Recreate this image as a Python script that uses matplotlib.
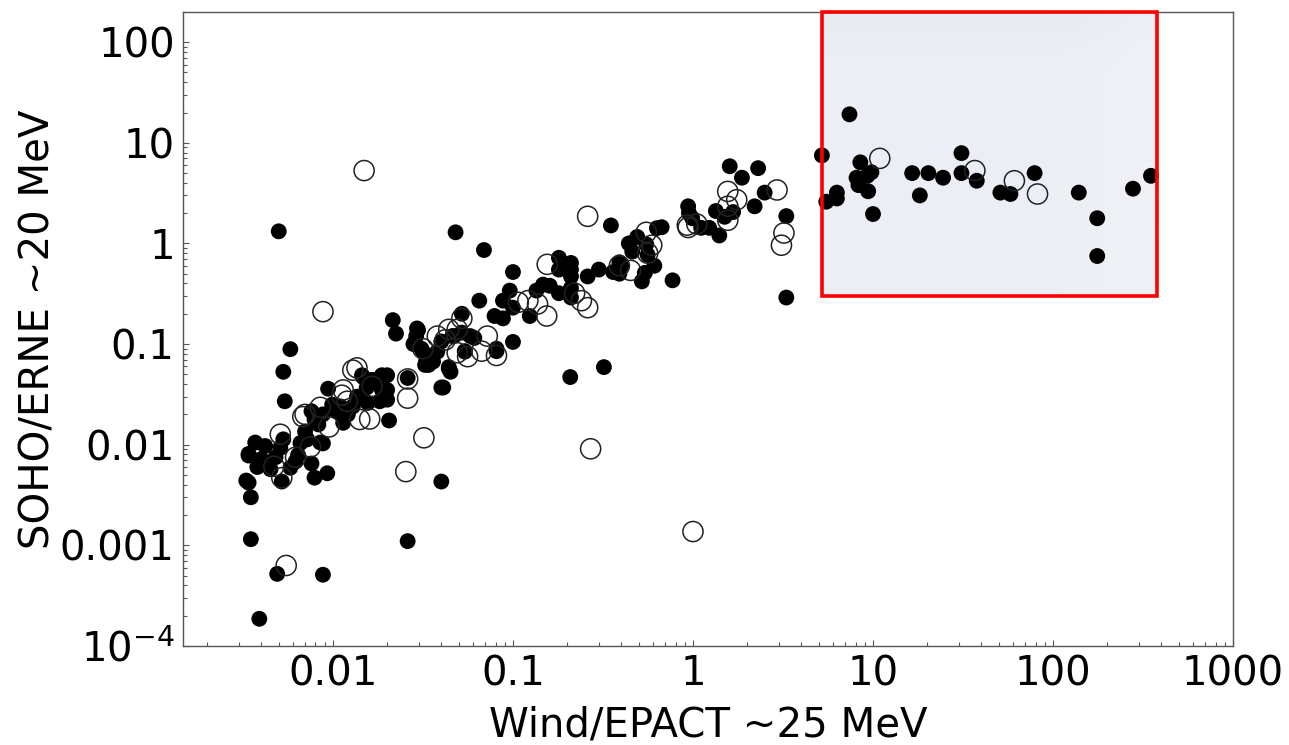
import numpy as np
import matplotlib
matplotlib.use("Agg")
import matplotlib.pyplot as plt
from matplotlib.patches import Rectangle
from matplotlib.ticker import FixedLocator, LogLocator, NullFormatter, FuncFormatter

# events seen by both instruments (filled) and the second group (open)
filled_x = [0.005, 0.048, 0.069, 0.0058, 0.0053, 0.0054, 0.0094, 0.04, 0.026, 0.0205,
            0.208, 0.0035, 0.0049, 0.0088, 0.0039, 0.1, 0.0033, 0.0034, 0.0035, 0.0034,
            0.35, 0.18, 0.21, 0.21, 0.21, 0.21, 0.18, 0.26, 0.30, 0.32,
            0.36, 0.39, 0.39, 0.44, 0.46, 0.49, 0.55, 0.56, 0.61, 0.54,
            0.52, 0.40, 0.63, 0.67, 0.77, 0.94, 0.95, 0.99, 1.11, 1.23,
            1.4, 1.34, 1.5, 1.67, 1.6, 1.87, 2.3, 2.2, 2.5, 3.3,
            3.3, 5.2, 7.4, 8.5, 8.1, 8.3, 9.3, 9.8, 9.4, 10.0,
            5.5, 6.3, 6.3, 16.5, 20.3, 24.5, 18.2, 31, 31, 37.7,
            51, 58, 79, 139, 176, 176, 278, 350,
            0.0037, 0.0034, 0.0042, 0.0040, 0.0045, 0.0048, 0.0051, 0.0053, 0.0052, 0.0038,
            0.0058, 0.0064, 0.0066, 0.0076, 0.0079, 0.0093, 0.007, 0.0072, 0.0076, 0.0079,
            0.0083, 0.0085, 0.0088, 0.0099, 0.0105, 0.011, 0.0114, 0.0121, 0.0129, 0.0136,
            0.0154, 0.0088, 0.0145, 0.0165, 0.0187, 0.02, 0.0187, 0.02, 0.0182, 0.0156,
            0.0141, 0.026, 0.0297, 0.0285, 0.0316, 0.033, 0.034, 0.036, 0.040, 0.044,
            0.045, 0.04, 0.046, 0.054, 0.058, 0.081, 0.0215, 0.0224, 0.0293, 0.029,
            0.028, 0.031, 0.041, 0.044, 0.0325, 0.0345, 0.038, 0.047, 0.052, 0.061,
            0.052, 0.054, 0.081, 0.065, 0.079, 0.088, 0.096, 0.088, 0.1, 0.124,
            0.147, 0.16, 0.135, 0.1, 0.0147, 0.0167, 0.02, 0.18, 0.21, 0.0062]
filled_y = [1.32, 1.29, 0.86, 0.089, 0.053, 0.027, 0.036, 0.0043, 0.0011, 0.0174,
            0.047, 0.00115, 0.00052, 0.00051, 0.000186, 0.105, 0.0044, 0.0042, 0.003, 0.0081,
            1.51, 0.72, 0.64, 0.47, 0.36, 0.29, 0.32, 0.47, 0.55, 0.059,
            0.52, 0.5, 0.65, 1.0, 0.83, 1.16, 0.98, 0.77, 0.6, 0.51,
            0.42, 0.6, 1.42, 1.45, 0.43, 2.34, 2.0, 1.78, 1.43, 1.43,
            1.2, 2.1, 1.84, 2.05, 5.85, 4.5, 5.6, 2.34, 3.2, 1.87,
            0.29, 7.5, 19.2, 6.4, 4.5, 3.8, 4.7, 5.1, 3.3, 1.96,
            2.6, 3.2, 2.8, 5.0, 5.0, 4.5, 3.0, 7.9, 5.0, 4.2,
            3.2, 3.1, 5.0, 3.2, 1.78, 0.75, 3.5, 4.7,
            0.0105, 0.0078, 0.0097, 0.0072, 0.0057, 0.0075, 0.0093, 0.0113, 0.0043, 0.006,
            0.0059, 0.0079, 0.0104, 0.0065, 0.0047, 0.0052, 0.0135, 0.0113, 0.0215, 0.0178,
            0.0159, 0.0105, 0.0103, 0.025, 0.0215, 0.024, 0.0165, 0.02, 0.024, 0.03,
            0.037, 0.02, 0.049, 0.044, 0.049, 0.049, 0.035, 0.028, 0.027, 0.026,
            0.03, 0.046, 0.138, 0.101, 0.084, 0.07, 0.062, 0.067, 0.106, 0.059,
            0.053, 0.037, 0.12, 0.085, 0.12, 0.085, 0.173, 0.127, 0.143, 0.12,
            0.1, 0.09, 0.037, 0.057, 0.062, 0.072, 0.084, 0.12, 0.13, 0.115,
            0.2, 0.084, 0.09, 0.27, 0.19, 0.18, 0.34, 0.27, 0.23, 0.19,
            0.39, 0.38, 0.34, 0.52, 0.047, 0.044, 0.035, 0.55, 0.55, 0.0068]

open_x = [0.0149, 0.0088, 0.27, 1.0, 0.26, 0.032, 0.0254, 0.0055, 0.22, 0.24,
          0.26, 0.45, 0.39, 0.55, 0.59, 0.56, 0.93, 0.94, 1.05, 1.56,
          1.75, 1.56, 1.56, 2.93, 3.2, 3.1, 10.9, 36.8, 61, 82,
          0.0051, 0.0052, 0.0068, 0.007, 0.0085, 0.0112, 0.012, 0.0141, 0.0129, 0.0114,
          0.026, 0.026, 0.0316, 0.042, 0.056, 0.067, 0.072, 0.081, 0.0136, 0.038,
          0.044, 0.049, 0.052, 0.049, 0.107, 0.121, 0.137, 0.154, 0.155, 0.0062,
          0.0075, 0.0095, 0.0165, 0.016, 0.0047]
open_y = [5.3, 0.21, 0.0091, 0.00137, 1.86, 0.0117, 0.0054, 0.00063, 0.32, 0.27,
          0.23, 0.54, 0.6, 1.29, 0.96, 0.8, 1.52, 1.44, 1.56, 3.29,
          2.72, 2.34, 1.7, 3.4, 1.27, 0.96, 7.0, 5.3, 4.2, 3.1,
          0.0127, 0.0047, 0.019, 0.02, 0.0235, 0.031, 0.027, 0.0178, 0.055, 0.035,
          0.045, 0.029, 0.09, 0.11, 0.075, 0.085, 0.12, 0.077, 0.058, 0.12,
          0.14, 0.14, 0.18, 0.082, 0.26, 0.27, 0.25, 0.19, 0.62, 0.0075,
          0.0095, 0.015, 0.038, 0.018, 0.0061]

# highlighted region (x range, y range)
box_x = [5.2, 380]
box_y = [0.3, 200]

xticks = [0.01, 0.1, 1, 10, 100, 1000]
yticks = [1e-4, 0.001, 0.01, 0.1, 1, 10, 100]

plt.rcParams["font.family"] = "DejaVu Sans"

fig = plt.figure(figsize=(12.89, 7.45), dpi=100)
ax = fig.add_axes([0.142, 0.133, 0.8146, 0.851])
ax.set_xscale("log")
ax.set_yscale("log")
ax.set_xlim(0.00147, 1000)
ax.set_ylim(1e-4, 200)

# shaded box with a soft gradient
grad = np.array([[[0.910, 0.922, 0.949], [0.925, 0.937, 0.957]],
                 [[0.925, 0.937, 0.957], [0.937, 0.945, 0.965]]])
ax.imshow(grad, extent=(box_x[0], box_x[1], box_y[0], box_y[1]), aspect="auto",
          interpolation="bilinear", origin="upper", zorder=0)
ax.add_patch(Rectangle((box_x[0], box_y[0]), box_x[1] - box_x[0], box_y[1] - box_y[0],
                       fill=False, edgecolor="#ff0000", lw=2.6, zorder=5, clip_on=False))

ax.scatter(filled_x, filled_y, s=130, c="black", edgecolors="none", zorder=3)
ax.scatter(open_x, open_y, s=210, facecolors="none", edgecolors="#222222",
           linewidths=1.1, zorder=4)

def fmt(v, pos):
    if v < 0.0005:
        return r"$10^{-4}$"
    if v >= 1:
        return "%d" % round(v)
    return ("%.4f" % v).rstrip("0")

ax.xaxis.set_major_locator(FixedLocator(xticks))
ax.yaxis.set_major_locator(FixedLocator(yticks))
ax.xaxis.set_major_formatter(FuncFormatter(fmt))
ax.yaxis.set_major_formatter(FuncFormatter(fmt))
ax.xaxis.set_minor_locator(LogLocator(base=10, subs=np.arange(2, 10), numticks=20))
ax.yaxis.set_minor_locator(LogLocator(base=10, subs=np.arange(2, 10), numticks=20))
ax.xaxis.set_minor_formatter(NullFormatter())
ax.yaxis.set_minor_formatter(NullFormatter())
ax.tick_params(which="both", direction="in", top=False, right=False,
               color="#555555", labelsize=29)
ax.tick_params(which="major", length=4, width=0.8, pad=6)
ax.tick_params(which="minor", length=3, width=0.8)
for sp in ax.spines.values():
    sp.set_color("#555555")
    sp.set_linewidth(1.0)

ax.set_xlabel("Wind/EPACT ~25 MeV", fontsize=29, labelpad=8)
ax.set_ylabel("SOHO/ERNE ~20 MeV", fontsize=29, labelpad=1)

fig.savefig("out.png", dpi=100)
